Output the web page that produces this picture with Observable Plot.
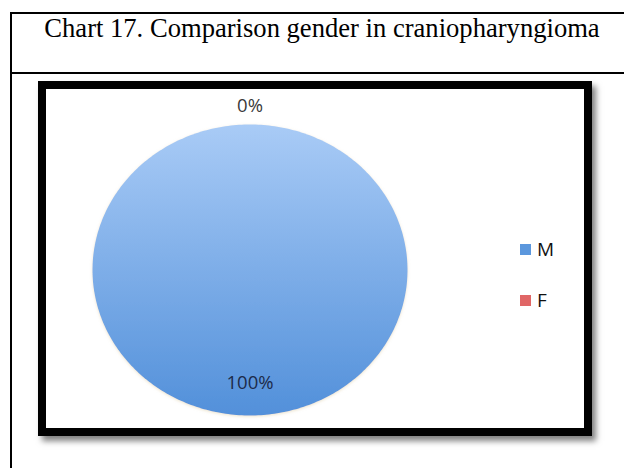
<!DOCTYPE html>
<html><head><meta charset="utf-8">
<script src="https://cdn.jsdelivr.net/npm/d3@7"></script>
<script src="https://cdn.jsdelivr.net/npm/@observablehq/plot@0.6"></script>
<style>
html,body{margin:0;padding:0;background:#fff}
body{width:624px;height:468px;overflow:hidden;position:relative;font-family:"Open Sans",sans-serif}
#table{position:absolute;left:10px;top:12px;width:620px;height:470px;border-left:2px solid #000;border-top:2px solid #000;box-sizing:border-box}
#title{position:absolute;left:12px;top:14px;width:620px;height:58px;border-bottom:2px solid #000;font-family:"Liberation Serif","Times New Roman",serif;font-size:26.6px;line-height:28px;text-align:center;color:#000;white-space:nowrap}
#box{position:absolute;left:38px;top:81px;width:554px;height:355px;border:8px solid #000;box-sizing:border-box;background:#fff;box-shadow:4px 5px 6px rgba(0,0,0,0.5)}
#chart{position:absolute;left:0;top:0}
#legend{position:absolute;left:474px;top:147px}
.lg-swatch{padding-bottom:25px !important;line-height:26px !important}
.lg-swatch svg{margin-right:6px !important}
</style>
</head><body>
<div id="table"></div>
<div id="title">Chart 17. Comparison gender in craniopharyngioma</div>
<div id="box"><div id="chart"></div><div id="legend"></div></div>
<script>
// ---- data ----
const categories = ["M", "F"];
const percentages = [100, 0];
const sliceGradients = [["#a9cbf6", "#5290da"], ["#f0a0a0", "#d85858"]];
const swatchColors = ["#5b97dd", "#e06666"];
const labelColors = ["#1c2b4a", "#3a3a3a"];

// ---- pie geometry (derived from data) ----
const arcs = d3.pie().sort(null)(percentages);
const outline = [];
arcs.forEach((a, i) => {
  const span = a.endAngle - a.startAngle;
  if (span <= 0) return;
  if (span < 2 * Math.PI - 1e-9) outline.push({cat: categories[i], x: 0, y: 0});
  const n = 360;
  for (let k = 0; k <= n; k++) {
    const t = a.startAngle + span * k / n;
    outline.push({cat: categories[i], x: Math.sin(t), y: Math.cos(t)});
  }
});
const labelData = arcs.map((a, i) => {
  const mid = (a.startAngle + a.endAngle) / 2;
  const r = percentages[i] === 0 ? 1.13 : 0.78;
  return {cat: categories[i], text: percentages[i] + "%", x: Math.sin(mid) * r, y: Math.cos(mid) * r, color: labelColors[i]};
});

const W = 538, H = 339;
const cx = 203.5, cy = 180.5, rx = 157.5, ry = 145.5;

const svg = Plot.plot({
  width: W, height: H,
  margin: 0,
  x: {domain: [-1, 1], range: [cx - rx, cx + rx], axis: null},
  y: {domain: [-1, 1], range: [cy + ry, cy - ry], axis: null},
  style: {background: "transparent", overflow: "visible"},
  marks: [
    ...categories.map((c, i) => Plot.line(outline.filter(d => d.cat === c), {
      x: "x", y: "y", fill: `url(#grad${i})`, stroke: "none", curve: "linear"
    })),
    Plot.text(labelData, {x: "x", y: "y", text: "text", fill: d => d.color, fontSize: 18.5, fontFamily: "Open Sans, sans-serif"})
  ]
});
const defs = d3.select(svg).insert("defs", ":first-child");
sliceGradients.forEach((g, i) => {
  const lg = defs.append("linearGradient").attr("id", "grad" + i).attr("x1", 0).attr("y1", 0).attr("x2", 0).attr("y2", 1);
  lg.append("stop").attr("offset", "0%").attr("stop-color", g[0]);
  lg.append("stop").attr("offset", "100%").attr("stop-color", g[1]);
});
const f = defs.append("filter").attr("id", "glow").attr("x", "-10%").attr("y", "-10%").attr("width", "120%").attr("height", "120%");
f.append("feDropShadow").attr("dx", 0).attr("dy", 1).attr("stdDeviation", 1.5).attr("flood-color", "#d8c89a").attr("flood-opacity", 0.5);
d3.select(svg).selectAll("path").attr("filter", "url(#glow)");
document.getElementById("chart").appendChild(svg);

const legend = Plot.legend({
  color: {type: "ordinal", domain: categories, range: swatchColors},
  legend: "swatches", columns: 1, swatchSize: 11, className: "lg",
  style: {fontSize: "19px", fontFamily: "Open Sans, sans-serif", color: "#111", background: "transparent"}
});
document.getElementById("legend").appendChild(legend);
</script>
</body></html>
